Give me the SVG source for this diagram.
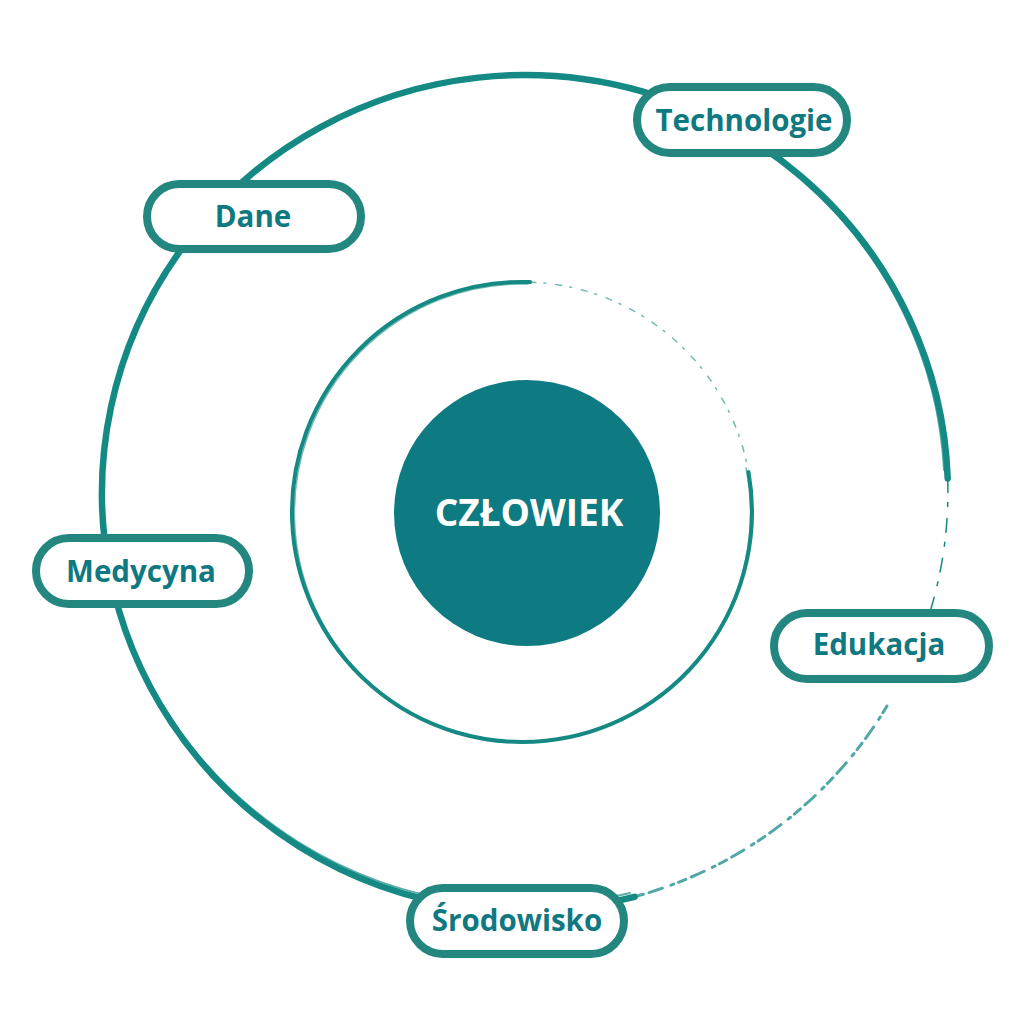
<svg xmlns="http://www.w3.org/2000/svg" width="1024" height="1024" viewBox="0 0 1024 1024">
<style>
.ring{fill:none;stroke:#158a84;stroke-linecap:round}
.pill{fill:#ffffff;stroke:#238780;stroke-width:8}
.lbl{font-family:"Open Sans","Noto Sans",sans-serif;font-weight:700;font-size:29.5px;fill:#0f7880;text-anchor:middle}
</style>
<rect width="1024" height="1024" fill="#ffffff"/>
<g id="connectors">
  <path class="ring" stroke-width="6.5" d="M 634.5 896.8 A 423 418 0 1 1 947.7 478.4"/>
  <path class="ring" stroke-width="2" opacity="0.7" d="M 630 893 A 421 415 0 1 1 944 470"/>
  <path class="ring" stroke-width="1.5" stroke-dasharray="14 10 4 12" d="M 947.7 478.4 A 423 418 0 0 1 930 612"/>
  <path class="ring" stroke-width="3" opacity="0.75" stroke-dasharray="8 5 3 9 14 6" d="M 887 706 A 423 418 0 0 1 634.5 896.8"/>
  <path class="ring" stroke-width="4" d="M 748.5 472.1 A 230 230 0 1 1 530 282.1"/>
  <path class="ring" stroke-width="1.5" opacity="0.6" d="M 746 468 A 228 229 0 1 1 528 284"/>
  <path class="ring" stroke-width="1.5" opacity="0.6" stroke-dasharray="6 8 2 10" d="M 530 282.1 A 230 230 0 0 1 748.5 472.1"/>
</g>
<g id="center">
  <circle cx="527" cy="513" r="133" fill="#0e7a82"/>
  <text x="529" y="526" font-family="'Open Sans','Noto Sans',sans-serif" font-weight="700" font-size="37" fill="#ffffff" text-anchor="middle">CZŁOWIEK</text>
</g>
<g id="technologie">
  <rect class="pill" x="637" y="87" width="210" height="66" rx="33"/>
  <text class="lbl" x="744" y="131">Technologie</text>
</g>
<g id="dane">
  <rect class="pill" x="147" y="184" width="214" height="65" rx="32.5"/>
  <text class="lbl" x="253" y="227">Dane</text>
</g>
<g id="medycyna">
  <rect class="pill" x="36" y="538" width="213" height="66" rx="33"/>
  <text class="lbl" x="141" y="582">Medycyna</text>
</g>
<g id="edukacja">
  <rect class="pill" x="774" y="613" width="215" height="66" rx="33"/>
  <text class="lbl" x="879" y="655">Edukacja</text>
</g>
<g id="srodowisko">
  <rect class="pill" x="410" y="888" width="214" height="66" rx="33"/>
  <text class="lbl" x="517" y="931">Środowisko</text>
</g>
</svg>
